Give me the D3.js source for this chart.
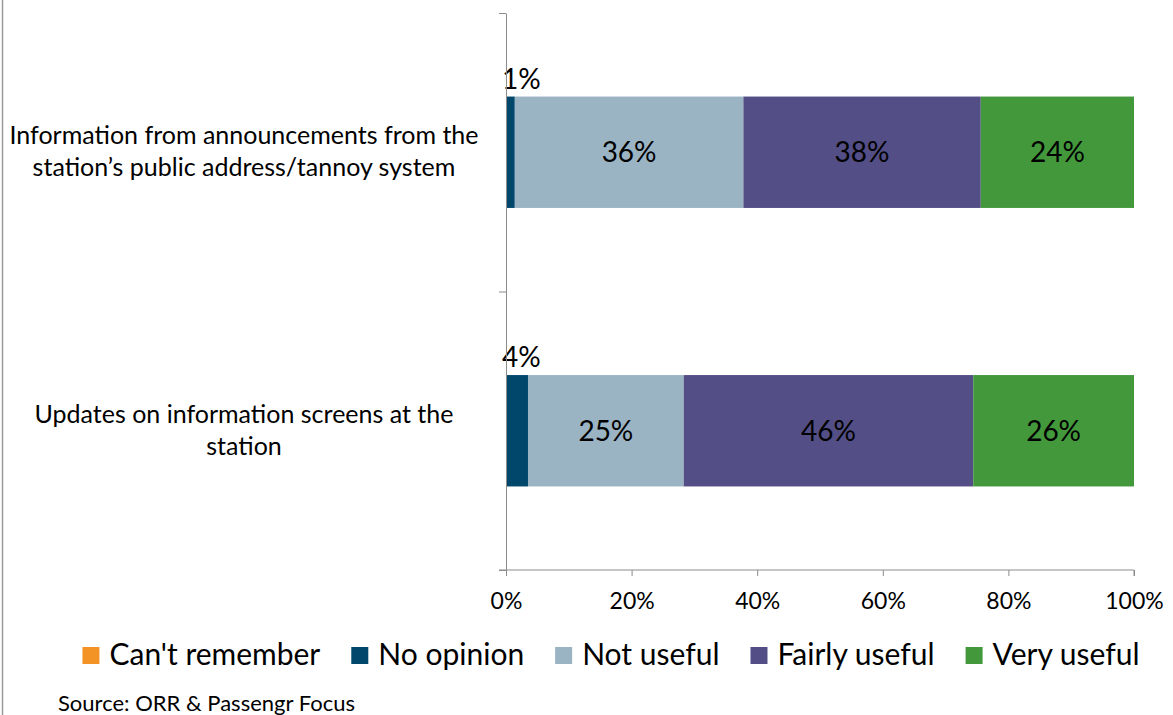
<!DOCTYPE html>
<html>
<head>
<meta charset="utf-8">
<script src="https://cdn.jsdelivr.net/npm/d3@7"></script>
<style>
  body { margin: 0; background: #fff; }
  svg { font-family: Lato, "Open Sans", sans-serif; }
</style>
</head>
<body>
<svg></svg>
<script>
// data
const categories = [
  "Information from announcements from the|station\u2019s public address/tannoy system",
  "Updates on information screens at the|station"
];
const seriesNames = ["Can't remember", "No opinion", "Not useful", "Fairly useful", "Very useful"];
const seriesColors = ["#f39325", "#00476b", "#9bb4c4", "#534f86", "#43983c"];
const cantRemember = [0, 0];
const noOpinion = [1.4, 3.5];
const notUseful = [36.4, 24.8];
const fairlyUseful = [37.8, 46.1];
const veryUseful = [24.4, 25.6];
const valueLabels = [
  ["", "1%", "36%", "38%", "24%"],
  ["", "4%", "25%", "46%", "26%"]
];
const xTicks = [0, 20, 40, 60, 80, 100];

const width = 1173, height = 715;
const svg = d3.select("svg").attr("width", width).attr("height", height);

const x = d3.scaleLinear().domain([0, 100]).range([506, 1134]);
const y = d3.scaleBand().domain(categories).range([13, 570])
  .paddingInner(0.6).paddingOuter(0.3);
const yEdge = d3.scaleLinear().domain([0, categories.length]).range([13, 570]);

// left frame edge
svg.append("line")
  .attr("x1", 2.5).attr("x2", 2.5).attr("y1", 0).attr("y2", height)
  .attr("stroke", "#9a9a9a").attr("stroke-width", 1.5);

const allSeries = [cantRemember, noOpinion, notUseful, fairlyUseful, veryUseful];
const rows = categories.map((c, i) => {
  let acc = 0;
  return allSeries.map((s, k) => {
    const d = { cat: c, key: k, x0: acc, x1: acc + s[i], label: valueLabels[i][k] };
    acc += s[i];
    return d;
  });
});

// bars
const g = svg.append("g");
rows.forEach(row => {
  g.selectAll(null)
    .data(row.filter(d => d.x1 > d.x0))
    .enter().append("rect")
    .attr("x", d => x(d.x0))
    .attr("y", d => y(d.cat))
    .attr("width", d => x(d.x1) - x(d.x0))
    .attr("height", y.bandwidth())
    .attr("fill", d => seriesColors[d.key]);

  g.selectAll(null)
    .data(row.filter(d => d.label !== ""))
    .enter().append("text")
    .attr("x", d => (d.x1 - d.x0) < 5 ? x(0) - 4 : x((d.x0 + d.x1) / 2))
    .attr("y", d => (d.x1 - d.x0) < 5 ? y(d.cat) - 8 : y(d.cat) + y.bandwidth() / 2 + 10)
    .attr("text-anchor", d => (d.x1 - d.x0) < 5 ? "start" : "middle")
    .attr("font-size", 28)
    .attr("fill", "#000")
    .text(d => d.label);
});

// x axis
const xAxis = svg.append("g")
  .attr("transform", "translate(0,570)")
  .call(d3.axisBottom(x).tickValues(xTicks).tickFormat(d => d + "%").tickSize(6).tickSizeOuter(0));
xAxis.select(".domain").attr("stroke", "#8c8c8c").attr("d", "M499,0H1134V6");
xAxis.selectAll(".tick line").attr("stroke", "#8c8c8c");
xAxis.selectAll(".tick text").attr("font-size", 23).attr("fill", "#000").attr("dy", "1.3em")
  .attr("font-family", "Lato, sans-serif");

// y axis
const yAxis = svg.append("g")
  .attr("transform", "translate(506,0)")
  .call(d3.axisLeft(yEdge).tickValues(d3.range(categories.length + 1)).tickFormat("").tickSize(7).tickSizeOuter(0));
yAxis.select(".domain").attr("stroke", "#8c8c8c");
yAxis.selectAll(".tick line").attr("stroke", "#8c8c8c");

// category labels
categories.forEach(c => {
  const lines = c.split("|");
  const cy = y(c) + y.bandwidth() / 2;
  const t = svg.append("text")
    .attr("text-anchor", "middle")
    .attr("font-size", 25)
    .attr("fill", "#000");
  lines.forEach((ln, j) => {
    t.append("tspan")
      .attr("x", 244)
      .attr("y", cy + (j - (lines.length - 1) / 2) * 32 + 8)
      .text(ln);
  });
});

// legend
const legend = svg.append("g");
const items = seriesNames.map((name, k) => {
  const it = legend.append("g");
  it.append("rect").attr("width", 17).attr("height", 17).attr("y", -18).attr("fill", seriesColors[k]);
  it.append("text").attr("x", 27).attr("y", 0).attr("font-size", 30).attr("fill", "#000").text(name);
  return it;
});
let lx = 0;
const offsets = items.map(it => {
  const w = 27 + it.select("text").node().getComputedTextLength();
  const o = lx;
  lx += w + 31;
  return o;
});
const totalW = lx - 31;
const startX = 611 - totalW / 2;
items.forEach((it, k) => it.attr("transform", `translate(${startX + offsets[k]},665)`));

// source
svg.append("text")
  .attr("x", 58).attr("y", 711)
  .attr("font-size", 22).attr("fill", "#000")
  .text("Source: ORR & Passengr Focus");
</script>
</body>
</html>
